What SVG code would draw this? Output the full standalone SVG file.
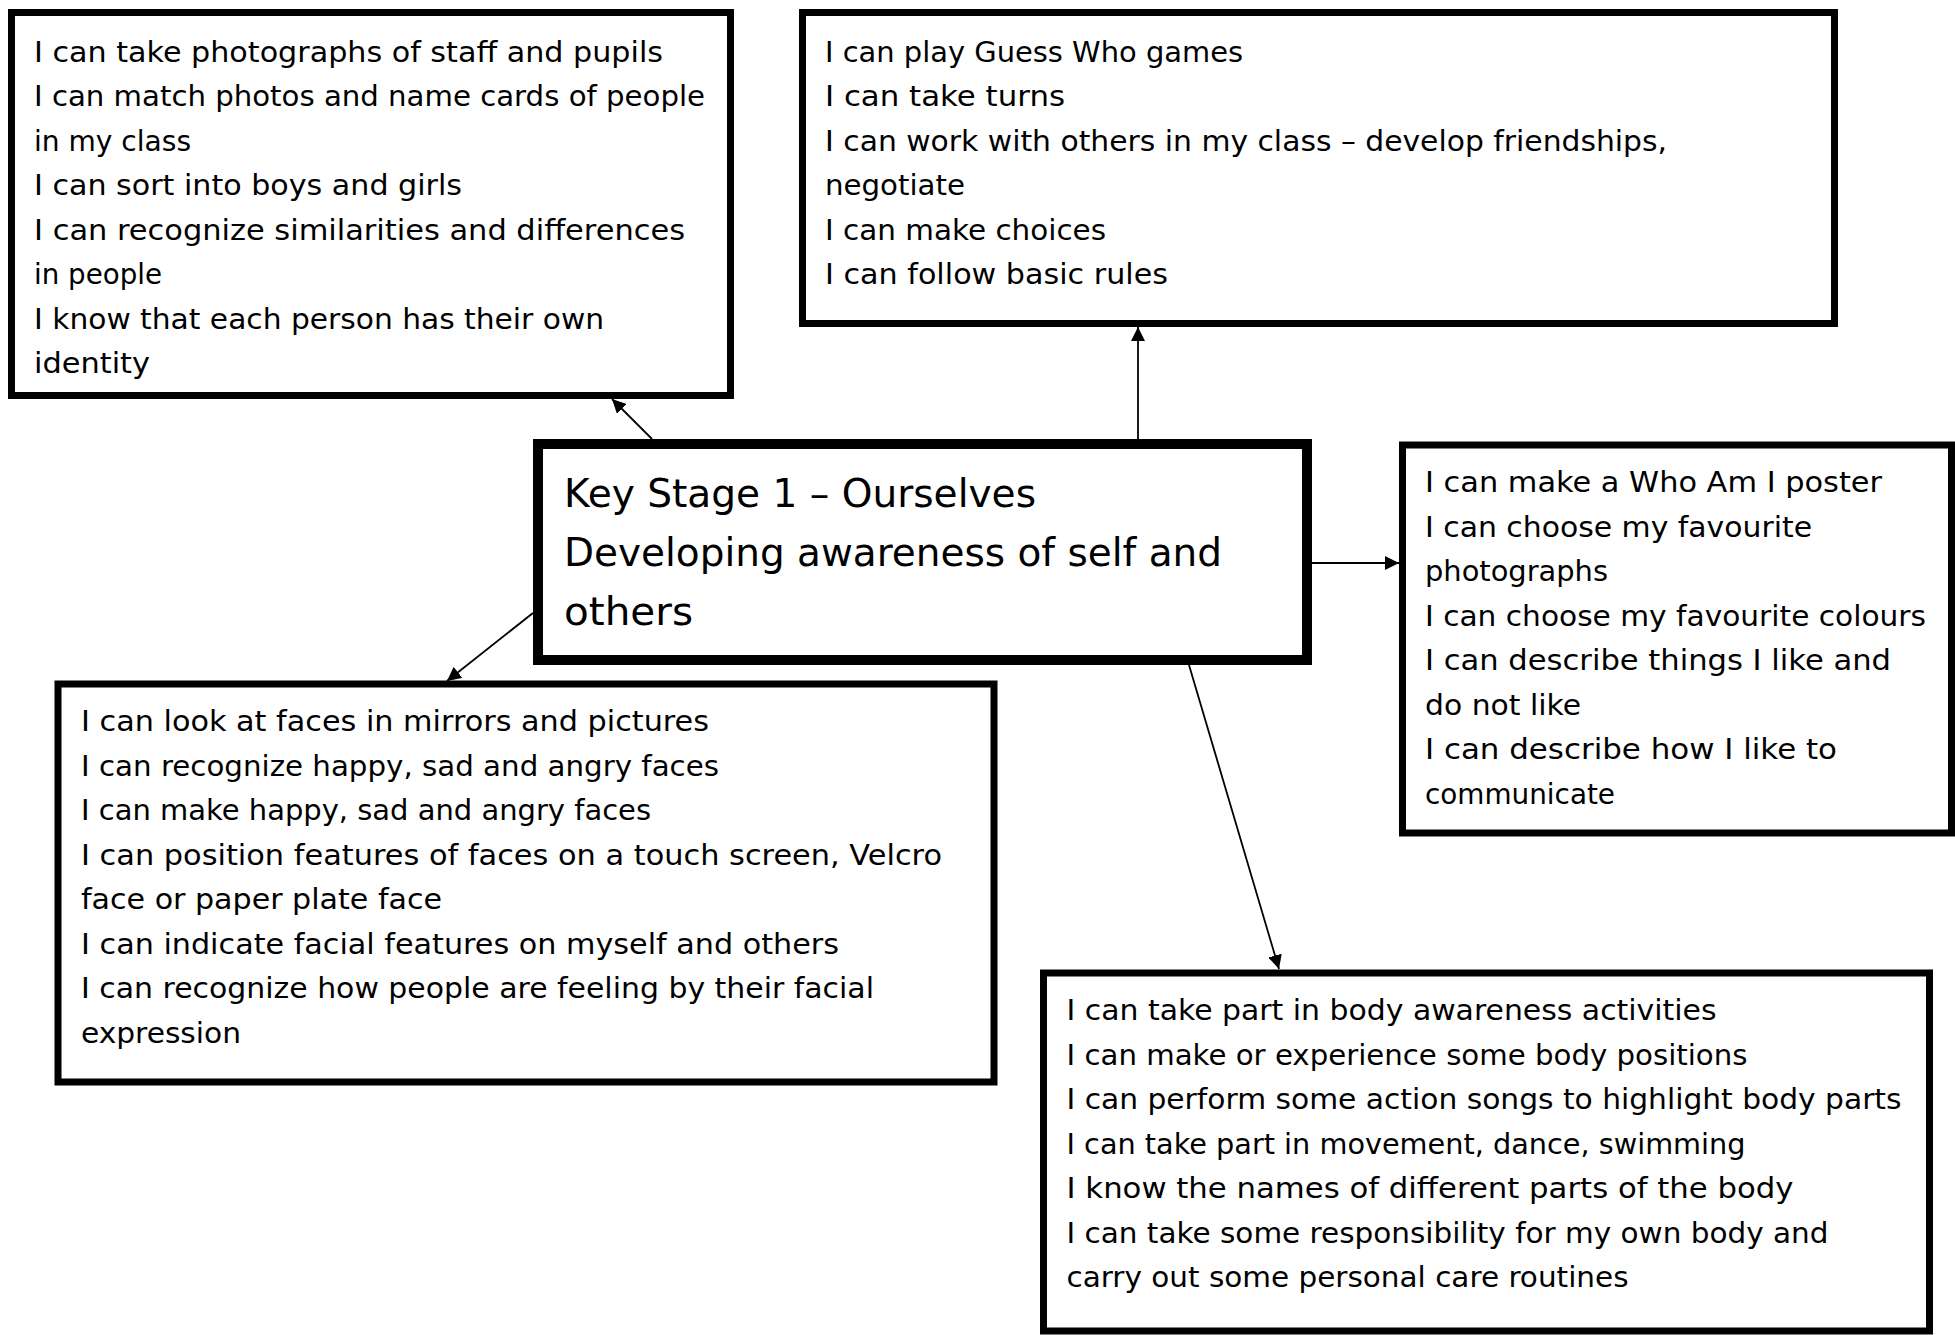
<svg xmlns="http://www.w3.org/2000/svg" width="1955" height="1335" viewBox="0 0 1955 1335">
<style>
.box{fill:#fff;stroke:#000;stroke-width:7}
.main{fill:#fff;stroke:#000;stroke-width:10}
.t{font-family:"DejaVu Sans","Liberation Sans",sans-serif;font-size:29px;fill:#000}
.h{font-family:"DejaVu Sans","Liberation Sans",sans-serif;font-size:39px;fill:#000}
.c{stroke:#000;stroke-width:1.8;fill:none}
</style>
<defs>
<marker id="ah" markerUnits="userSpaceOnUse" viewBox="0 0 14 14" refX="14" refY="7" markerWidth="14" markerHeight="14" orient="auto">
<path d="M0,0 L14,7 L0,14 z" fill="#000"/>
</marker>
</defs>
<rect width="1955" height="1335" fill="#fff"/>
<g id="connectors">
<line class="c" x1="652" y1="439" x2="612" y2="399" marker-end="url(#ah)"/>
<line class="c" x1="1138" y1="439" x2="1138" y2="327" marker-end="url(#ah)"/>
<line class="c" x1="1312" y1="563" x2="1399" y2="563" marker-end="url(#ah)"/>
<line class="c" x1="533" y1="613" x2="447" y2="681" marker-end="url(#ah)"/>
<line class="c" x1="1189" y1="665" x2="1279" y2="969" marker-end="url(#ah)"/>
</g>
<g id="node-identity">
<rect class="box" x="11.5" y="12.5" width="719" height="383"/>
<text class="t" x="34" y="61.5" textLength="629" lengthAdjust="spacingAndGlyphs">I can take photographs of staff and pupils</text>
<text class="t" x="34" y="106" textLength="671" lengthAdjust="spacingAndGlyphs">I can match photos and name cards of people</text>
<text class="t" x="34" y="150.5" textLength="157" lengthAdjust="spacingAndGlyphs">in my class</text>
<text class="t" x="34" y="195" textLength="428" lengthAdjust="spacingAndGlyphs">I can sort into boys and girls</text>
<text class="t" x="34" y="239.5" textLength="651" lengthAdjust="spacingAndGlyphs">I can recognize similarities and differences</text>
<text class="t" x="34" y="284" textLength="128" lengthAdjust="spacingAndGlyphs">in people</text>
<text class="t" x="34" y="328.5" textLength="570" lengthAdjust="spacingAndGlyphs">I know that each person has their own</text>
<text class="t" x="34" y="373" textLength="116" lengthAdjust="spacingAndGlyphs">identity</text>
</g>
<g id="node-social">
<rect class="box" x="802.5" y="12.5" width="1032" height="311"/>
<text class="t" x="825" y="61.5" textLength="418" lengthAdjust="spacingAndGlyphs">I can play Guess Who games</text>
<text class="t" x="825" y="106" textLength="240" lengthAdjust="spacingAndGlyphs">I can take turns</text>
<text class="t" x="825" y="150.5" textLength="842" lengthAdjust="spacingAndGlyphs">I can work with others in my class – develop friendships,</text>
<text class="t" x="825" y="195" textLength="140" lengthAdjust="spacingAndGlyphs">negotiate</text>
<text class="t" x="825" y="239.5" textLength="281" lengthAdjust="spacingAndGlyphs">I can make choices</text>
<text class="t" x="825" y="284" textLength="343" lengthAdjust="spacingAndGlyphs">I can follow basic rules</text>
</g>
<g id="node-main">
<rect class="main" x="538" y="444" width="769" height="216"/>
<text class="h" x="564" y="507" textLength="472" lengthAdjust="spacingAndGlyphs">Key Stage 1 – Ourselves</text>
<text class="h" x="564" y="566" textLength="658" lengthAdjust="spacingAndGlyphs">Developing awareness of self and</text>
<text class="h" x="564" y="625" textLength="129" lengthAdjust="spacingAndGlyphs">others</text>
</g>
<g id="node-preferences">
<rect class="box" x="1402.5" y="445" width="549" height="388"/>
<text class="t" x="1425" y="492" textLength="457" lengthAdjust="spacingAndGlyphs">I can make a Who Am I poster</text>
<text class="t" x="1425" y="536.5" textLength="387" lengthAdjust="spacingAndGlyphs">I can choose my favourite</text>
<text class="t" x="1425" y="581" textLength="183" lengthAdjust="spacingAndGlyphs">photographs</text>
<text class="t" x="1425" y="625.5" textLength="501" lengthAdjust="spacingAndGlyphs">I can choose my favourite colours</text>
<text class="t" x="1425" y="670" textLength="466" lengthAdjust="spacingAndGlyphs">I can describe things I like and</text>
<text class="t" x="1425" y="714.5" textLength="156" lengthAdjust="spacingAndGlyphs">do not like</text>
<text class="t" x="1425" y="759" textLength="412" lengthAdjust="spacingAndGlyphs">I can describe how I like to</text>
<text class="t" x="1425" y="803.5" textLength="190" lengthAdjust="spacingAndGlyphs">communicate</text>
</g>
<g id="node-faces">
<rect class="box" x="58" y="684" width="936" height="398"/>
<text class="t" x="81" y="731" textLength="628" lengthAdjust="spacingAndGlyphs">I can look at faces in mirrors and pictures</text>
<text class="t" x="81" y="775.5" textLength="638" lengthAdjust="spacingAndGlyphs">I can recognize happy, sad and angry faces</text>
<text class="t" x="81" y="820" textLength="570" lengthAdjust="spacingAndGlyphs">I can make happy, sad and angry faces</text>
<text class="t" x="81" y="864.5" textLength="861" lengthAdjust="spacingAndGlyphs">I can position features of faces on a touch screen, Velcro</text>
<text class="t" x="81" y="909" textLength="361" lengthAdjust="spacingAndGlyphs">face or paper plate face</text>
<text class="t" x="81" y="953.5" textLength="758" lengthAdjust="spacingAndGlyphs">I can indicate facial features on myself and others</text>
<text class="t" x="81" y="998" textLength="793" lengthAdjust="spacingAndGlyphs">I can recognize how people are feeling by their facial</text>
<text class="t" x="81" y="1042.5" textLength="160" lengthAdjust="spacingAndGlyphs">expression</text>
</g>
<g id="node-body">
<rect class="box" x="1043.5" y="973" width="886" height="358"/>
<text class="t" x="1066.5" y="1020" textLength="650" lengthAdjust="spacingAndGlyphs">I can take part in body awareness activities</text>
<text class="t" x="1066.5" y="1064.5" textLength="681" lengthAdjust="spacingAndGlyphs">I can make or experience some body positions</text>
<text class="t" x="1066.5" y="1109" textLength="835" lengthAdjust="spacingAndGlyphs">I can perform some action songs to highlight body parts</text>
<text class="t" x="1066.5" y="1153.5" textLength="679" lengthAdjust="spacingAndGlyphs">I can take part in movement, dance, swimming</text>
<text class="t" x="1066.5" y="1198" textLength="727" lengthAdjust="spacingAndGlyphs">I know the names of different parts of the body</text>
<text class="t" x="1066.5" y="1242.5" textLength="762" lengthAdjust="spacingAndGlyphs">I can take some responsibility for my own body and</text>
<text class="t" x="1066.5" y="1287" textLength="562" lengthAdjust="spacingAndGlyphs">carry out some personal care routines</text>
</g>
</svg>
